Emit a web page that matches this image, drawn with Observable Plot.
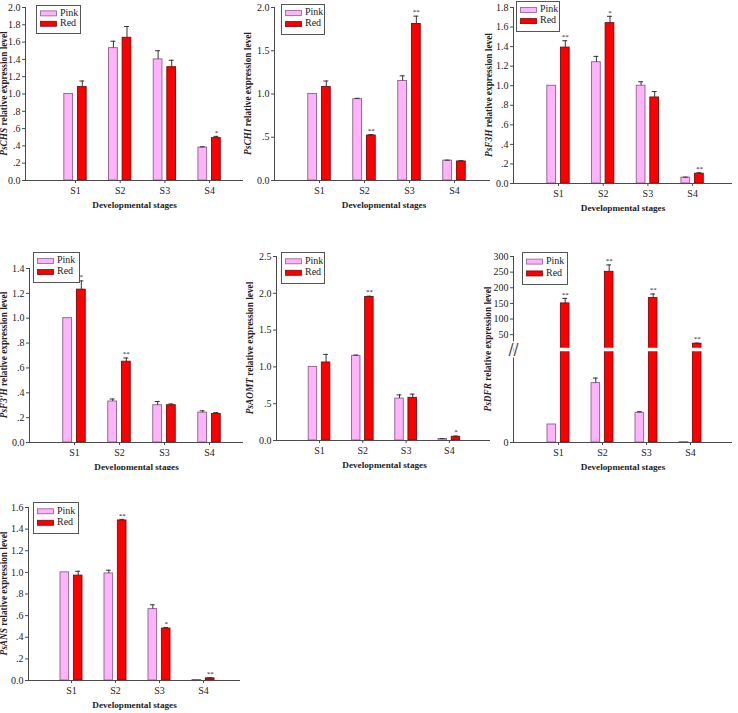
<!DOCTYPE html>
<html>
<head>
<meta charset="utf-8">
<script src="https://cdn.jsdelivr.net/npm/d3@7"></script>
<script src="https://cdn.jsdelivr.net/npm/@observablehq/plot@0.6"></script>
<style>
  html, body { margin: 0; padding: 0; background: #fff; }
  #wrap { position: relative; width: 738px; height: 713px; overflow: hidden; background: #fff; }
  #wrap svg { position: absolute; overflow: visible; }
</style>
</head>
<body>
<div id="wrap"></div>
<script>
// ---------- data ----------
const stages = ["S1", "S2", "S3", "S4"];
const groups = ["Pink", "Red"];

const chsPink = [1.00, 1.53, 1.40, 0.38];
const chsPinkErr = [0, 0.08, 0.10, 0.01];
const chsRed = [1.08, 1.65, 1.31, 0.49];
const chsRedErr = [0.07, 0.13, 0.08, 0.02];
const chsPinkSig = ["", "", "", ""];
const chsRedSig = ["", "", "", "*"];
const chsTicks = [0, 0.2, 0.4, 0.6, 0.8, 1.0, 1.2, 1.4, 1.6, 1.8, 2.0];

const chiPink = [1.00, 0.94, 1.15, 0.23];
const chiPinkErr = [0, 0.01, 0.06, 0.005];
const chiRed = [1.08, 0.52, 1.81, 0.22];
const chiRedErr = [0.07, 0.01, 0.09, 0.01];
const chiPinkSig = ["", "", "", ""];
const chiRedSig = ["", "**", "**", ""];
const chiTicks = [0, 0.5, 1.0, 1.5, 2.0];

const f3hPink = [1.00, 1.24, 1.00, 0.06];
const f3hPinkErr = [0, 0.06, 0.04, 0.005];
const f3hRed = [1.39, 1.64, 0.88, 0.10];
const f3hRedErr = [0.07, 0.07, 0.06, 0.01];
const f3hPinkSig = ["", "", "", ""];
const f3hRedSig = ["**", "*", "", "**"];
const f3hTicks = [0, 0.2, 0.4, 0.6, 0.8, 1.0, 1.2, 1.4, 1.6, 1.8];

const f3phPink = [1.00, 0.33, 0.30, 0.24];
const f3phPinkErr = [0, 0.02, 0.03, 0.015];
const f3phRed = [1.23, 0.65, 0.30, 0.23];
const f3phRedErr = [0.07, 0.03, 0.01, 0.01];
const f3phPinkSig = ["", "", "", ""];
const f3phRedSig = ["*", "**", "", ""];
const f3phTicks = [0, 0.2, 0.4, 0.6, 0.8, 1.0, 1.2, 1.4];

const aomtPink = [1.00, 1.15, 0.57, 0.02];
const aomtPinkErr = [0, 0.01, 0.05, 0.005];
const aomtRed = [1.06, 1.95, 0.58, 0.05];
const aomtRedErr = [0.11, 0.01, 0.05, 0.01];
const aomtPinkSig = ["", "", "", ""];
const aomtRedSig = ["", "**", "", "*"];
const aomtTicks = [0, 0.5, 1.0, 1.5, 2.0, 2.5];

const dfrPink = [1.0, 3.3, 1.65, 0.02];
const dfrPinkErr = [0, 0.28, 0.06, 0];
const dfrRed = [150, 251, 167, 21];
const dfrRedErr = [16, 22, 13, 2];
const dfrPinkSig = ["", "", "", ""];
const dfrRedSig = ["**", "**", "**", "**"];
const dfrTicks = [0, 50, 100, 150, 200, 250, 300];

const ansPink = [1.00, 0.99, 0.66, 0.005];
const ansPinkErr = [0, 0.03, 0.04, 0];
const ansRed = [0.97, 1.48, 0.48, 0.02];
const ansRedErr = [0.04, 0.01, 0.01, 0.005];
const ansPinkSig = ["", "", "", ""];
const ansRedSig = ["", "**", "*", "**"];
const ansTicks = [0, 0.2, 0.4, 0.6, 0.8, 1.0, 1.2, 1.4, 1.6];

// ---------- style / layout ----------
const FONT = "'Liberation Serif', 'Times New Roman', serif";
const PINK_FILL = "#ffb3fb", PINK_STROKE = "#8a6289";
const RED_FILL = "#fb0000", RED_STROKE = "#7a0a0a";
const AXIS = "#4a4a4a";

const decFmt = d => d === 0 ? "0.0" : (d < 1 ? d.toFixed(1).slice(1) : d.toFixed(1));

const panels = [
  {gene: "PsCHS", pink: chsPink, pinkErr: chsPinkErr, red: chsRed, redErr: chsRedErr, pinkSig: chsPinkSig, redSig: chsRedSig, ticks: chsTicks, fmt: decFmt,
   left: 0, top: 0, width: 245, height: 215, ml: 25, mt: 7, mb: 35, mr: 2, off: 50, sp: 44.7, legend: [36, 5, 44, 28], tx: 5},
  {gene: "PsCHI", pink: chiPink, pinkErr: chiPinkErr, red: chiRed, redErr: chiRedErr, pinkSig: chiPinkSig, redSig: chiRedSig, ticks: chiTicks, fmt: decFmt,
   left: 245, top: 0, width: 248, height: 215, ml: 29, mt: 7, mb: 35, mr: 0, off: 45, sp: 45, legend: [36, 4, 43, 30], tx: 4},
  {gene: "PsF3H", pink: f3hPink, pinkErr: f3hPinkErr, red: f3hRed, redErr: f3hRedErr, pinkSig: f3hPinkSig, redSig: f3hRedSig, ticks: f3hTicks, fmt: decFmt,
   left: 490, top: 0, width: 248, height: 215, ml: 23, mt: 7, mb: 32, mr: 6, off: 45, sp: 44.7, legend: [26, 1, 43, 30], tx: 0},
  {gene: "PsF3'H", pink: f3phPink, pinkErr: f3phPinkErr, red: f3phRed, redErr: f3phRedErr, pinkSig: f3phPinkSig, redSig: f3phRedSig, ticks: f3phTicks, fmt: decFmt,
   left: 0, top: 230, width: 245, height: 250, ml: 29, mt: 38, mb: 38, mr: 2, off: 45, sp: 45, legend: [33, 22, 46, 30], tx: 5},
  {gene: "PsAOMT", pink: aomtPink, pinkErr: aomtPinkErr, red: aomtRed, redErr: aomtRedErr, pinkSig: aomtPinkSig, redSig: aomtRedSig, ticks: aomtTicks, fmt: decFmt,
   left: 245, top: 230, width: 248, height: 250, ml: 31, mt: 26, mb: 40, mr: 1, off: 43, sp: 43.3, legend: [36, 22, 43, 31], tx: 6},
  {gene: "PsDFR", pink: dfrPink, pinkErr: dfrPinkErr, red: dfrRed, redErr: dfrRedErr, pinkSig: dfrPinkSig, redSig: dfrRedSig, ticks: dfrTicks, fmt: d => String(d),
   left: 490, top: 230, width: 248, height: 250, ml: 23, mt: 26, mb: 38, mr: 6, off: 45, sp: 44, legend: [32, 22, 45, 32], tx: -1,
   broken: {domain: [0, 5, 9, 300], gap: [5.6, 8.4]}},
  {gene: "PsANS", pink: ansPink, pinkErr: ansPinkErr, red: ansRed, redErr: ansRedErr, pinkSig: ansPinkSig, redSig: ansRedSig, ticks: ansTicks, fmt: decFmt,
   left: 0, top: 470, width: 245, height: 243, ml: 28, mt: 37, mb: 33, mr: 5, off: 43, sp: 44, legend: [33, 32, 45, 31], tx: 5}
];

const BAR_HALF = 0.098, BAR_OFF = 0.152, CAP = 0.055;

const wrap = document.getElementById("wrap");

for (const p of panels) {
  const rows = [];
  stages.forEach((s, i) => {
    rows.push({i, stage: s, group: "Pink", v: p.pink[i], e: p.pinkErr[i], sig: p.pinkSig[i]});
    rows.push({i, stage: s, group: "Red", v: p.red[i], e: p.redErr[i], sig: p.redSig[i]});
  });
  const cx = d => d.i + (d.group === "Pink" ? -BAR_OFF : BAR_OFF);
  const plotW = p.width - p.ml - p.mr;
  const x0 = -p.off / p.sp;
  const xDomain = [x0, x0 + plotW / p.sp];
  const yMax = p.ticks[p.ticks.length - 1];
  const bottomPx = p.height - p.mb;
  let yScale;
  if (p.broken) {
    const lowTopPx = bottomPx - 18 * 5;
    yScale = {type: "linear", domain: p.broken.domain, range: [bottomPx, lowTopPx, lowTopPx - 5, p.mt]};
  } else {
    yScale = {type: "linear", domain: [0, yMax]};
  }
  const marks = [
    Plot.rect(rows, {x1: d => cx(d) - BAR_HALF, x2: d => cx(d) + BAR_HALF, y1: 0, y2: "v",
      fill: d => d.group === "Pink" ? PINK_FILL : RED_FILL,
      stroke: d => d.group === "Pink" ? PINK_STROKE : RED_STROKE, strokeWidth: 0.9}),
    Plot.ruleX(rows.filter(d => d.e > 0), {x: cx, y1: "v", y2: d => d.v + d.e, stroke: "#333", strokeWidth: 1}),
    Plot.ruleY(rows.filter(d => d.e > 0), {x1: d => cx(d) - CAP, x2: d => cx(d) + CAP, y: d => d.v + d.e, stroke: "#333", strokeWidth: 1}),
    Plot.text(rows.filter(d => d.sig), {x: cx, y: d => d.v + d.e, text: "sig", dy: -4, fontSize: 7, fill: "#222"}),
    Plot.ruleY([0], {stroke: AXIS, strokeWidth: 1}),
    Plot.ruleX([xDomain[0]], {stroke: AXIS, strokeWidth: 1}),
    Plot.axisY({ticks: p.ticks, tickFormat: p.fmt, tickSize: 3, tickPadding: 2, label: null, stroke: AXIS, fill: "#222"}),
    Plot.axisX({ticks: [0, 1, 2, 3], tickFormat: i => stages[i], tickSize: 3, tickPadding: 3, label: null, stroke: AXIS, fill: "#222"}),
    Plot.text(["Developmental stages"], {frameAnchor: "bottom", dy: 27, fontWeight: "bold", fontSize: 9.2, fill: "#222"})
  ];
  if (p.broken) {
    const reds = rows.filter(d => d.group === "Red");
    marks.push(
      Plot.rect(reds, {x1: d => cx(d) - BAR_HALF, x2: d => cx(d) + BAR_HALF, y1: p.broken.gap[0], y2: p.broken.gap[1], fill: "white", insetLeft: -1, insetRight: -1}),
      Plot.text(["//"], {x: xDomain[0], y: 7, fontSize: 15, fontFamily: "DejaVu Sans", fill: AXIS, stroke: "white", strokeWidth: 3, paintOrder: "stroke"})
    );
  }
  const svg = Plot.plot({
    width: p.width, height: p.height,
    marginLeft: p.ml, marginRight: p.mr, marginTop: p.mt, marginBottom: p.mb,
    x: {type: "linear", domain: xDomain},
    y: yScale,
    style: {fontFamily: FONT, fontSize: "10px", background: "white", overflow: "visible"},
    marks
  });
  svg.style.left = p.left + "px";
  svg.style.top = p.top + "px";
  wrap.appendChild(svg);

  const s = d3.select(svg);
  // y axis title with italic gene name
  const cy = (p.mt + bottomPx) / 2;
  const t = s.append("text")
    .attr("transform", `translate(${p.tx},${cy}) rotate(-90)`)
    .attr("text-anchor", "middle").attr("dominant-baseline", "middle")
    .attr("font-family", FONT).attr("font-size", 9.3).attr("font-weight", "bold").attr("fill", "#222");
  t.append("tspan").attr("font-style", "italic").text(p.gene);
  t.append("tspan").text(" relative expression level");

  // legend
  const [lx, ly, lw, lh] = p.legend;
  const g = s.append("g").attr("text-anchor", "start");
  g.append("rect").attr("x", lx + 0.5).attr("y", ly + 0.5).attr("width", lw).attr("height", lh)
    .attr("fill", "white").attr("stroke", "#555").attr("stroke-width", 1);
  groups.forEach((name, k) => {
    const yy = ly + lh * (k === 0 ? 0.3 : 0.67);
    g.append("rect").attr("x", lx + 4.5).attr("y", yy - 2.5).attr("width", 16).attr("height", 5)
      .attr("fill", k === 0 ? PINK_FILL : RED_FILL).attr("stroke", k === 0 ? PINK_STROKE : RED_STROKE).attr("stroke-width", 0.8);
    g.append("text").attr("x", lx + 24).attr("y", yy).attr("dominant-baseline", "middle")
      .attr("text-anchor", "start")
      .attr("font-family", FONT).attr("font-size", 10).attr("fill", "#222").text(name);
  });
}
</script>
</body>
</html>
